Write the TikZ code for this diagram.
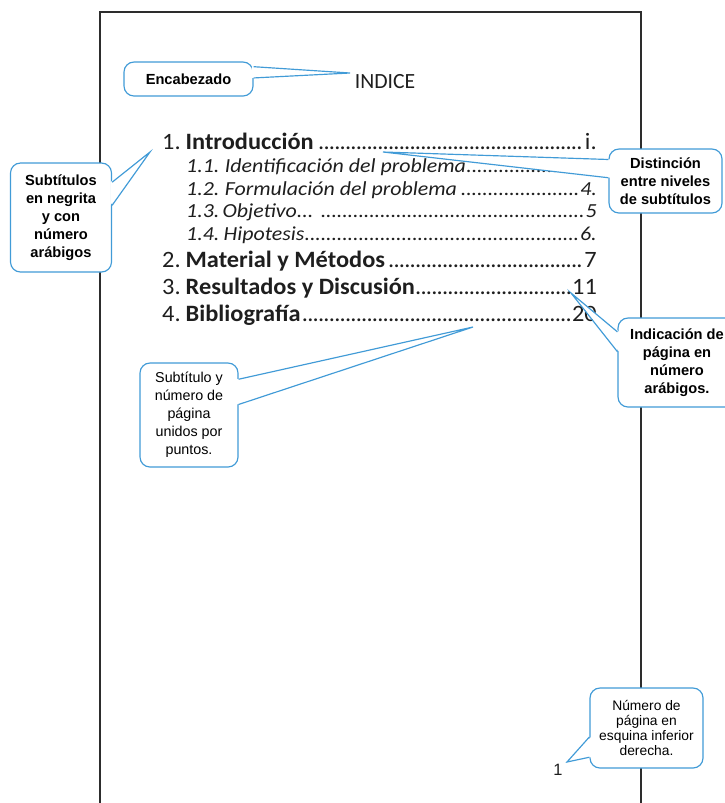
\documentclass[tikz,border=0pt]{standalone}
\usepackage{fontspec}
\setmainfont{Carlito}
\newfontfamily\arialfont{Liberation Sans}
\newfontfamily\tocfont[FakeStretch=1.04]{Carlito}
\newfontfamily\subtocfont[FakeStretch=1.1]{Carlito}
\usetikzlibrary{calc}
\usepackage{xcolor}

\definecolor{calloutblue}{RGB}{65,155,215}
\definecolor{pageline}{RGB}{45,45,45}
\definecolor{tocgray}{RGB}{30,30,30}

\newcommand{\leaderdots}{\leaders\hbox to 4.6pt{\hss.\hss}\hfill}

\tikzset{
	callout/.style={draw=calloutblue, line width=1pt, fill=white, rounded corners=0.3cm, align=center, inner sep=0pt, text=black, font=\arialfont\fontsize{12.5}{15.5}\selectfont\bfseries},
	calloutplain/.style={callout, font=\arialfont\fontsize{12.2}{15.3}\selectfont},
	pointer/.style={draw=calloutblue, line width=1pt, line join=miter},
	entry/.style={anchor=base west, inner sep=0pt, text=tocgray, font=\tocfont\fontsize{20}{22}\selectfont},
	subentry/.style={entry, font=\subtocfont\fontsize{17}{19}\selectfont\itshape}
}

\begin{document}
\begin{tikzpicture}[x=0.03cm, y=-0.03cm]
	\useasboundingbox (0,0) rectangle (725,803);
	\clip (0,0) rectangle (725,803);
	\draw[pageline, line width=1.1pt] (100,803) -- (100,12) -- (641,12) -- (641,803);

	\node[font=\fontsize{18.5}{20}\selectfont, text=tocgray] (indice) at (385,82) {INDICE};

	\node[entry] (intro) at (162,149) {\hbox to 13.05cm{\makebox[20pt][l]{1.}\textbf{Introducción}\leaderdots i.}};
	\node[subentry] (ident) at (186,172) {\hbox to 12.33cm{\makebox[33pt][l]{1.1.}Identificación del problema\leaderdots 3}};
	\node[subentry] (formul) at (186,195) {\hbox to 12.33cm{\makebox[33pt][l]{1.2.}Formulación del problema\leaderdots 4.}};
	\node[subentry] (objet) at (186,217) {\hbox to 12.33cm{\makebox[31pt][l]{1.3.}Objetivo... \leaderdots 5}};
	\node[subentry] (hipot) at (186,240) {\hbox to 12.33cm{\makebox[32pt][l]{1.4.}Hipotesis\leaderdots 6.}};
	\node[entry] (matmet) at (162,267) {\hbox to 13.05cm{\makebox[20pt][l]{2.}\textbf{Material y Métodos}\leaderdots 7}};
	\node[entry] (resdis) at (162,294) {\hbox to 13.05cm{\makebox[20pt][l]{3.}\textbf{Resultados y Discusión}\leaderdots 11}};
	\node[entry] (biblio) at (162,321) {\hbox to 13.05cm{\makebox[20pt][l]{4.}\textbf{Bibliografía}\leaderdots 20}};

	\node[font=\arialfont\fontsize{14}{16}\selectfont, text=tocgray] (pnum) at (558,770) {1};

	\node[callout, minimum width=3.87cm, minimum height=1.02cm] (enc) at (188.5,79) {Encabezado};
	\coordinate (encTip) at (350,73);
	\fill[white] ($(enc.north east)!0.15!(enc.south east)+(-1.5pt,0pt)$) -- (encTip) -- ($(enc.north east)!0.47!(enc.south east)+(-1.5pt,0pt)$) -- cycle;
	\draw[pointer] ($(enc.north east)!0.15!(enc.south east)$) -- (encTip) -- ($(enc.north east)!0.47!(enc.south east)$);

	\node[callout, minimum width=3.03cm, minimum height=3.27cm] (negrita) at (61,217.5) {Subtítulos\\en negrita\\y con\\número\\arábigos};
	\coordinate (negritaTip) at (150,152);
	\fill[white] ($(negrita.north east)!0.18!(negrita.south east)+(-1.5pt,0pt)$) -- (negritaTip) -- ($(negrita.north east)!0.39!(negrita.south east)+(-1.5pt,0pt)$) -- cycle;
	\draw[pointer] ($(negrita.north east)!0.18!(negrita.south east)$) -- (negritaTip) -- ($(negrita.north east)!0.39!(negrita.south east)$);

	\node[callout, minimum width=3.39cm, minimum height=1.92cm] (niveles) at (665.5,181) {Distinción\\entre niveles\\de subtítulos};
	\coordinate (nivelesTip) at (383,152);
	\fill[white] ($(niveles.north west)!0.17!(niveles.south west)+(1.5pt,0pt)$) -- (nivelesTip) -- ($(niveles.north west)!0.45!(niveles.south west)+(1.5pt,0pt)$) -- cycle;
	\draw[pointer] ($(niveles.north west)!0.17!(niveles.south west)$) -- (nivelesTip) -- ($(niveles.north west)!0.45!(niveles.south west)$);

	\node[callout, minimum width=3.54cm, minimum height=2.67cm] (indpag) at (677,362.5) {Indicación de\\página en\\número\\arábigos.};
	\coordinate (indpagTip) at (571,293);
	\fill[white] ($(indpag.north west)!0.16!(indpag.south west)+(1.5pt,0pt)$) -- (indpagTip) -- ($(indpag.north west)!0.38!(indpag.south west)+(1.5pt,0pt)$) -- cycle;
	\draw[pointer] ($(indpag.north west)!0.16!(indpag.south west)$) -- (indpagTip) -- ($(indpag.north west)!0.38!(indpag.south west)$);

	\node[calloutplain, minimum width=2.94cm, minimum height=3.12cm] (puntos) at (189,415) {Subtítulo y\\número de\\página\\unidos por\\puntos.};
	\coordinate (puntosTip) at (473,327);
	\fill[white] ($(puntos.north east)!0.16!(puntos.south east)+(-1.5pt,0pt)$) -- (puntosTip) -- ($(puntos.north east)!0.40!(puntos.south east)+(-1.5pt,0pt)$) -- cycle;
	\draw[pointer] ($(puntos.north east)!0.16!(puntos.south east)$) -- (puntosTip) -- ($(puntos.north east)!0.40!(puntos.south east)$);

	\node[calloutplain, font=\arialfont\fontsize{11.8}{12.9}\selectfont, minimum width=3.39cm, minimum height=2.4cm] (esquina) at (646.5,728) {Número de\\página en\\esquina inferior\\derecha.};
	\coordinate (esquinaTip) at (567,762);
	\fill[white] ($(esquina.north west)!0.61!(esquina.south west)+(1.5pt,0pt)$) -- (esquinaTip) -- ($(esquina.north west)!0.86!(esquina.south west)+(1.5pt,0pt)$) -- cycle;
	\draw[pointer] ($(esquina.north west)!0.61!(esquina.south west)$) -- (esquinaTip) -- ($(esquina.north west)!0.86!(esquina.south west)$);
\end{tikzpicture}
\end{document}
